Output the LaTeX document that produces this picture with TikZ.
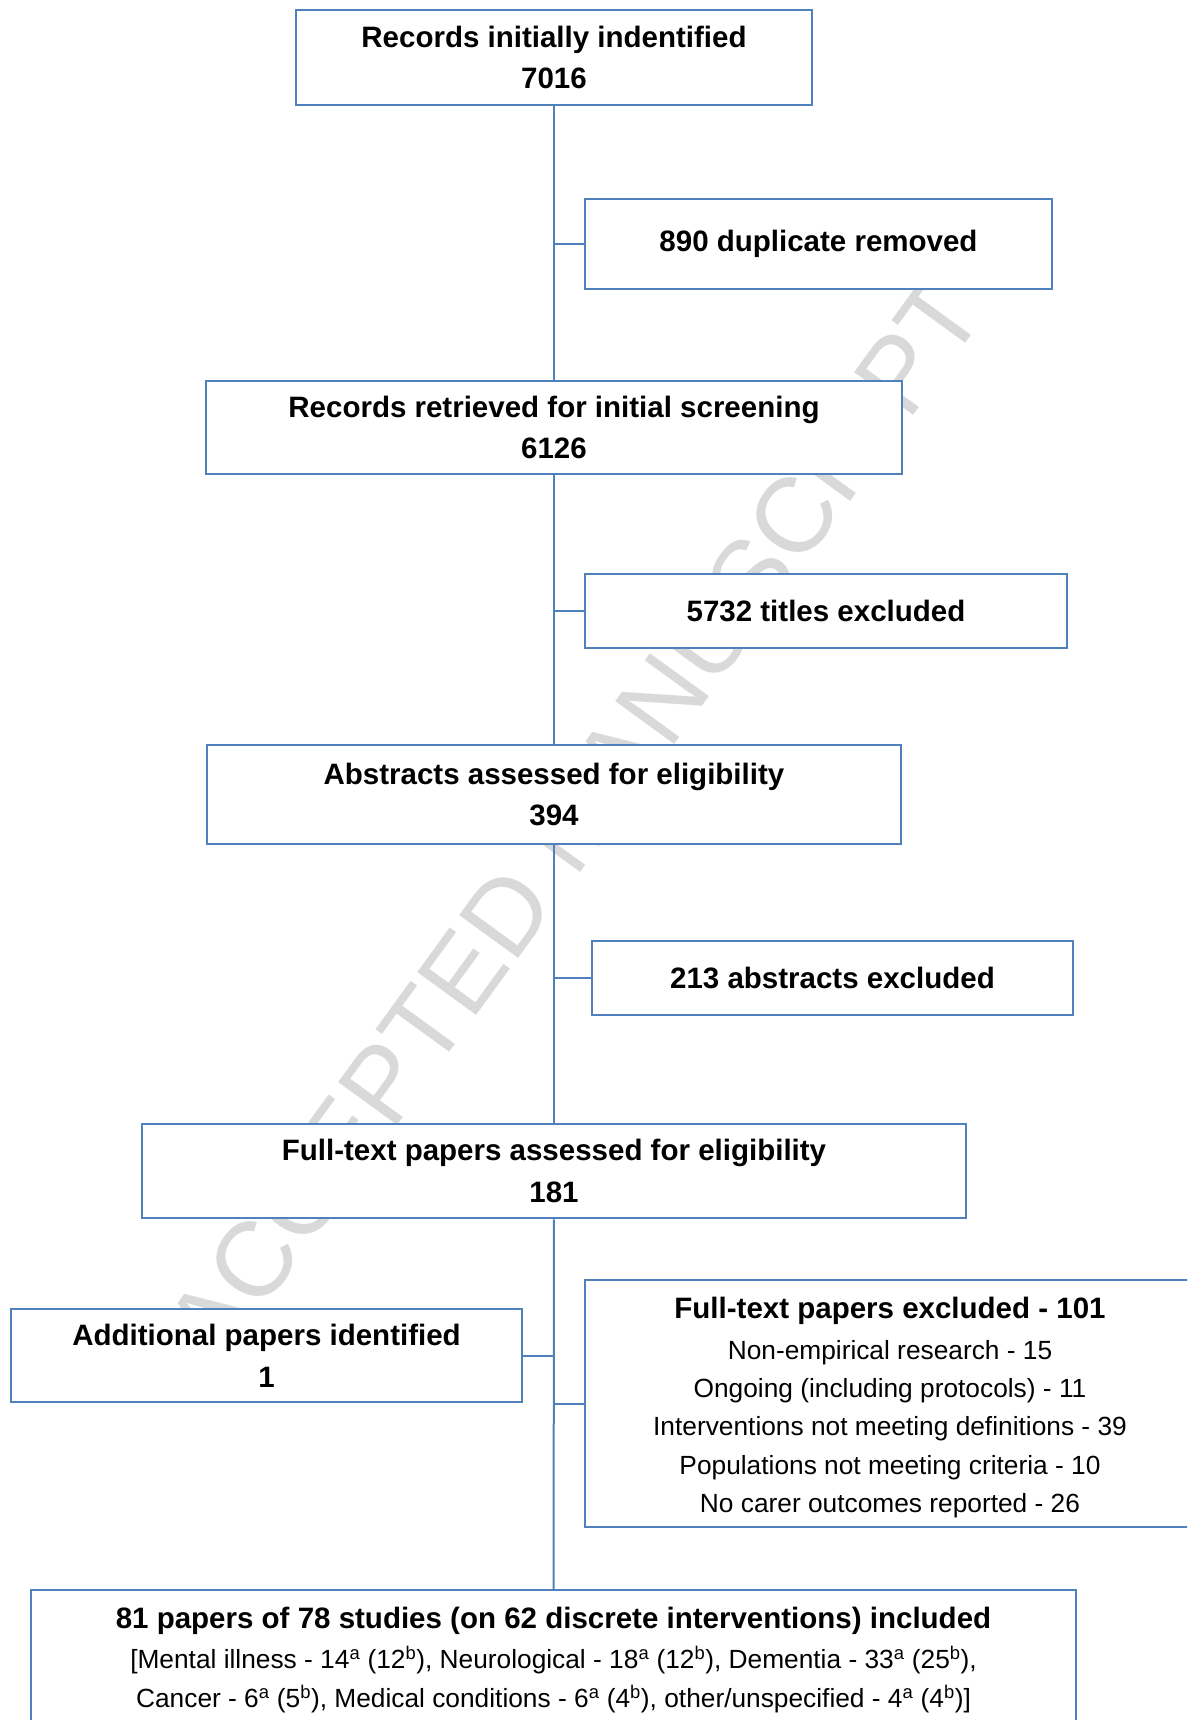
\documentclass[tikz,border=0pt]{standalone}
\usepackage{fontspec}
\setmainfont{Liberation Sans}
\usepackage{tikz}
\definecolor{bx}{HTML}{4F81BD}
\definecolor{wm}{HTML}{D9D9D9}

\begin{document}
\begin{tikzpicture}[x=1pt,y=-1pt]
            \tikzstyle{box}=[draw=bx,line width=2.5pt,fill=white,align=center,inner sep=0pt,font=\bfseries\fontsize{29.5}{41.7}\selectfont]
            \tikzstyle{small}=[font=\fontsize{26.3}{38.4}\selectfont]
            \tikzstyle{link}=[draw=bx,line width=2pt]
            \useasboundingbox (0,0) rectangle (1187,1720);
            \clip (0,0) rectangle (1187,1720);
            \node[text=wm,font=\fontsize{106}{110}\selectfont,rotate=54] (mark) at (574,820) {ACCEPTED MANUSCRIPT};
            \node[box,minimum width=516pt,minimum height=95pt] (ident) at (554,57.5) {Records initially indentified\\7016};
            \node[box,minimum width=467pt,minimum height=90pt] (dupl) at (818.5,244) {890 duplicate removed};
            \node[box,minimum width=696pt,minimum height=93pt] (screen) at (554,427.5) {Records retrieved for initial screening\\6126};
            \node[box,minimum width=482pt,minimum height=74pt] (titles) at (826,611) {5732 titles excluded};
            \node[box,minimum width=694pt,minimum height=99pt] (abstr) at (554,794.5) {Abstracts assessed for eligibility\\394};
            \node[box,minimum width=481pt,minimum height=74pt] (abexcl) at (832.5,978) {213 abstracts excluded};
            \node[box,minimum width=824pt,minimum height=94pt] (full) at (554,1171) {Full-text papers assessed for eligibility\\181};
            \node[box,minimum width=511pt,minimum height=93pt] (addit) at (266.5,1355.5) {Additional papers identified\\1};
            \node[box,small,minimum width=610pt,minimum height=247pt] (fullexcl) at (890,1403.5) {\rule{0pt}{30pt}{\bfseries\fontsize{29.5}{41.7}\selectfont Full-text papers excluded - 101}\\[2pt]
              Non-empirical research - 15\\Ongoing (including protocols) - 11\\Interventions not meeting definitions - 39\\
              Populations not meeting criteria - 10\\No carer outcomes reported - 26};
            \node[box,small,minimum width=1045pt,minimum height=140pt] (incl) at (553.5,1660) {{\bfseries\fontsize{29.5}{41.7}\selectfont 81 papers of 78 studies (on 62 discrete interventions) included}\\[2pt]
              [Mental illness - 14\textsuperscript{a} (12\textsuperscript{b}), Neurological - 18\textsuperscript{a} (12\textsuperscript{b}), Dementia - 33\textsuperscript{a} (25\textsuperscript{b}),\\
              Cancer - 6\textsuperscript{a} (5\textsuperscript{b}), Medical conditions - 6\textsuperscript{a} (4\textsuperscript{b}), other/unspecified - 4\textsuperscript{a} (4\textsuperscript{b})]};
            % main line
            \draw[link] (ident) -- (screen);
            \draw[link] (screen) -- (abstr);
            \draw[link] (abstr) -- (full);
            \draw[link] (full) -- (incl);
            % side boxes
            \draw[link] (ident.south |- dupl.west) -- (dupl.west);
            \draw[link] (screen.south |- titles.west) -- (titles.west);
            \draw[link] (abstr.south |- abexcl.west) -- (abexcl.west);
            \draw[link] (addit.east) -- (addit.east -| full.south);
            \draw[link] (full.south |- fullexcl.west) -- (fullexcl.west);
          \end{tikzpicture}
\end{document}
